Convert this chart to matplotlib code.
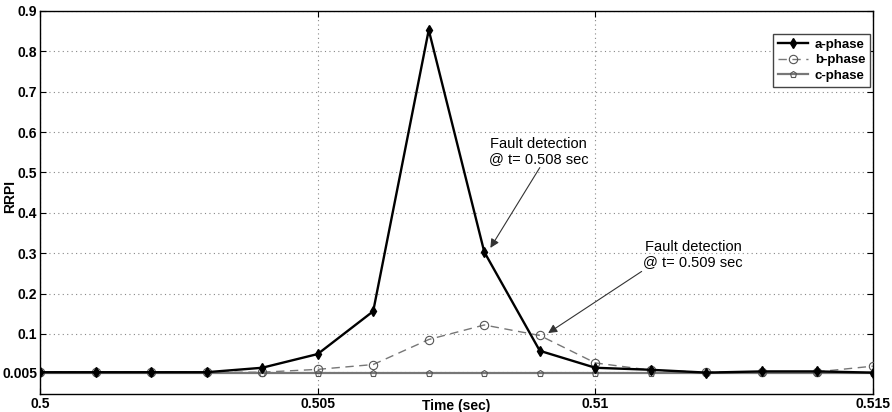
import matplotlib
matplotlib.use("Agg")
import matplotlib.pyplot as plt

plt.rcParams['font.family'] = ['Liberation Sans', 'DejaVu Sans']

time = [0.500, 0.501, 0.502, 0.503, 0.504, 0.505, 0.506, 0.507, 0.508,
        0.509, 0.510, 0.511, 0.512, 0.513, 0.514, 0.515]
a_phase = [0.005, 0.005, 0.005, 0.005, 0.016, 0.050, 0.156, 0.853, 0.303,
           0.058, 0.016, 0.011, 0.004, 0.007, 0.007, 0.004]
b_phase = [0.005, 0.005, 0.005, 0.005, 0.005, 0.012, 0.024, 0.086, 0.122,
           0.096, 0.028, 0.010, 0.005, 0.006, 0.006, 0.020]
c_phase = [0.002, 0.002, 0.002, 0.002, 0.002, 0.002, 0.002, 0.002, 0.002,
           0.002, 0.002, 0.002, 0.002, 0.002, 0.002, 0.002]

xticks = [0.5, 0.505, 0.51, 0.515]
xticklabels = ['0.5', '0.505', '0.51', '0.515']
yticks = [0.005, 0.1, 0.2, 0.3, 0.4, 0.5, 0.6, 0.7, 0.8, 0.9]
yticklabels = ['0.005', '0.1', '0.2', '0.3', '0.4', '0.5', '0.6', '0.7', '0.8', '0.9']

fig = plt.figure(figsize=(8.92, 4.12), dpi=100)
ax = fig.add_axes([40/892, 1-394/412, 833/892, 383/412])

ax.plot(time, c_phase, color='#777777', lw=1.6, marker='p', ms=5,
        mfc='none', mec='#555555', mew=0.8, label='c-phase', zorder=3)
ax.plot(time, b_phase, color='#777777', lw=1.0, ls=(0, (6, 4)), marker='o', ms=6,
        mfc='none', mec='#555555', mew=0.8, label='b-phase', zorder=4)
ax.plot(time, a_phase, color='black', lw=1.7, marker='d', ms=5,
        mfc='black', mec='black', label='a-phase', zorder=5)

ax.set_xlim(0.5, 0.515)
ax.set_ylim(-0.049, 0.9)
ax.set_xticks(xticks)
ax.set_xticklabels(xticklabels)
ax.set_yticks(yticks)
ax.set_yticklabels(yticklabels)
ax.tick_params(direction='in', length=4, top=True, right=True, pad=2)
for lab in ax.get_xticklabels() + ax.get_yticklabels():
    lab.set_fontweight('bold')
    lab.set_fontsize(10)
ax.grid(True, ls=(0, (1, 3)), color='#888888', lw=0.8)
for s in ax.spines.values():
    s.set_linewidth(1.0)

ax.set_xlabel('Time (sec)', fontsize=10, fontweight='bold')
ax.xaxis.set_label_coords(0.5, -0.012)
ax.set_ylabel('RRPI', fontsize=10, fontweight='bold')
ax.yaxis.set_label_coords(-0.028, 0.515)

handles, labels = ax.get_legend_handles_labels()
order = [2, 1, 0]
leg = ax.legend([handles[i] for i in order], [labels[i] for i in order],
                loc='upper right', bbox_to_anchor=(0.9964, 0.94),
                prop={'weight': 'bold', 'size': 9.5}, fancybox=False,
                edgecolor='#444444', framealpha=1, handlelength=2.3,
                borderpad=0.35, labelspacing=0.25, handletextpad=0.5,
                borderaxespad=0)
leg.get_frame().set_linewidth(1.0)

arrow = dict(arrowstyle='-|>', color='#333333', lw=0.8,
             mutation_scale=13, shrinkA=0, shrinkB=0)
ax.text(0.508975, 0.551, 'Fault detection\n@ t= 0.508 sec', fontsize=10.5,
        ha='center', va='center', linespacing=1.1, zorder=6)
ax.annotate('', xy=(0.50811, 0.313), xytext=(0.50900, 0.512),
            arrowprops=arrow, zorder=6)
ax.text(0.511757, 0.296, 'Fault detection\n@ t= 0.509 sec', fontsize=10.5,
        ha='center', va='center', linespacing=1.1, zorder=6)
ax.annotate('', xy=(0.50915, 0.102), xytext=(0.510834, 0.2547),
            arrowprops=arrow, zorder=6)

fig.savefig('out.png', dpi=100)
